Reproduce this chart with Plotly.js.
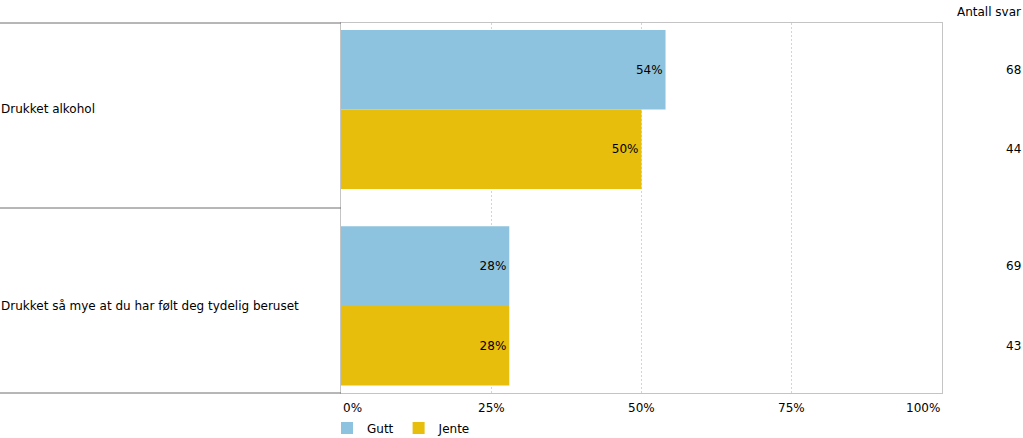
<!DOCTYPE html>
<html>
<head>
<meta charset="utf-8">
<script src="https://cdn.plot.ly/plotly-3.0.1.min.js"></script>
<style>html,body{margin:0;padding:0;background:#fff;}#chart{width:1023px;height:438px;}</style>
</head>
<body>
<div id="chart"></div>
<script>
const categories = ["Drukket alkohol", "Drukket så mye at du har følt deg tydelig beruset"];
const seriesNames = ["Gutt", "Jente"];
const gutt = [54, 28];
const jente = [50, 28];
const guttCount = [68, 69];
const jenteCount = [44, 43];
const tickVals = [0, 25, 50, 75, 100];
const tickText = ["0%", "25%", "50%", "75%", "100%"];
const countHeader = "Antall svar";

const colors = ["#8DC3DF", "#E8BE0C"];
const FONT = "DejaVu Sans, Verdana, sans-serif";
const bargap = 0.19;
const yPos = categories.map((c, i) => i);
const half = (1 - bargap) / 4;

const mk = (vals, name, color) => ({
  type: "bar", orientation: "h", name: name,
  x: vals, y: yPos,
  marker: {color: color},
  text: vals.map(v => v + "%"),
  textposition: "inside", insidetextanchor: "end",
  textfont: {color: "#000", size: 12, family: FONT},
  constraintext: "none",
  hoverinfo: "skip"
});

const data = [mk(gutt, seriesNames[0], colors[0]), mk(jente, seriesNames[1], colors[1])];

const annotations = [];
categories.forEach((c, i) => {
  annotations.push({xref: "paper", yref: "y", x: 0, xshift: -342, xanchor: "left", y: i, text: c,
    showarrow: false, font: {size: 12, family: FONT, color: "#000"}});
  annotations.push({xref: "paper", yref: "y", x: 1, xshift: 81, xanchor: "right", y: i - half, text: String(guttCount[i]),
    showarrow: false, font: {size: 12, family: FONT, color: "#000"}});
  annotations.push({xref: "paper", yref: "y", x: 1, xshift: 81, xanchor: "right", y: i + half, text: String(jenteCount[i]),
    showarrow: false, font: {size: 12, family: FONT, color: "#000"}});
});
annotations.push({xref: "paper", yref: "paper", x: 1, xshift: 81, xanchor: "right", y: 1, yshift: 11, yanchor: "middle",
  text: countHeader, showarrow: false, font: {size: 12, family: FONT, color: "#000"}});
tickVals.forEach((v, i) => {
  annotations.push({xref: "x", yref: "paper", x: v, y: 0, yshift: -15, yanchor: "middle",
    xanchor: i === 0 ? "left" : (i === tickVals.length - 1 ? "right" : "center"),
    text: tickText[i], showarrow: false, font: {size: 12, family: FONT, color: "#000"}});
});

const shapes = [0, 0.5, 1].map(p => ({
  type: "line", xref: "paper", yref: "paper", xsizemode: "pixel", xanchor: 0,
  x0: -341, x1: 0, y0: p, y1: p, line: {color: "#6e6e6e", width: 1}
}));

const layout = {
  width: 1023, height: 438,
  margin: {l: 341, r: 81, t: 23, b: 45, pad: 0, autoexpand: false},
  paper_bgcolor: "#fff", plot_bgcolor: "#fff",
  font: {family: FONT, size: 12, color: "#000"},
  barmode: "group", bargap: bargap, bargroupgap: 0,
  showlegend: true,
  legend: {orientation: "h", x: -14 / 601, xanchor: "left", y: -35 / 370, yanchor: "middle",
    font: {size: 12, family: FONT}, itemwidth: 30, tracegroupgap: 0, bgcolor: "rgba(0,0,0,0)",
    borderwidth: 0},
  xaxis: {range: [0, 100], tickvals: tickVals.slice(1, -1), showticklabels: false, ticks: "",
    showgrid: true, gridcolor: "#d4d4d4", griddash: "2px,2px", gridwidth: 1,
    zeroline: false, showline: true, linecolor: "#c4c4c4", mirror: true, fixedrange: true},
  yaxis: {range: [1.443, -0.44], showticklabels: false, ticks: "", showgrid: false, zeroline: false,
    showline: true, linecolor: "#c4c4c4", mirror: true, fixedrange: true},
  annotations: annotations,
  shapes: shapes
};

Plotly.newPlot("chart", data, layout, {displayModeBar: false, staticPlot: true});
</script>
</body>
</html>
